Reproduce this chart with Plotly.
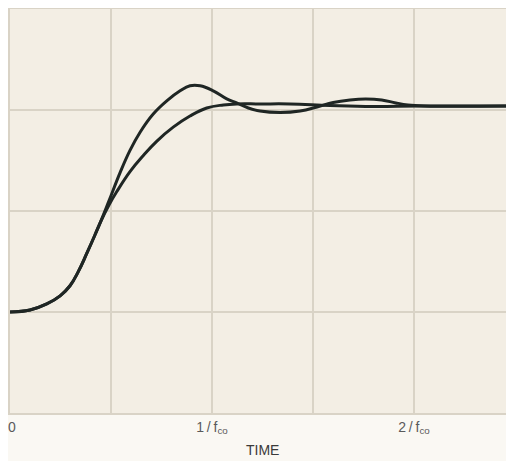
import plotly.graph_objects as go

# time in units of 1/f_co, response in grid units
t_common = [0.0, 0.099, 0.182, 0.248, 0.297, 0.338, 0.38, 0.42, 0.45]
v_common = [1.0, 1.02, 1.08, 1.16, 1.26, 1.40, 1.58, 1.76, 1.90]

t_over = [0.49, 0.545, 0.594, 0.644, 0.709, 0.776, 0.842, 0.891, 0.941,
          1.006, 1.073, 1.122, 1.18, 1.238, 1.337, 1.436, 1.52, 1.6, 1.683,
          1.76, 1.84, 1.91, 1.97, 2.05, 2.5]
v_over = [2.10, 2.38, 2.60, 2.78, 2.96, 3.09, 3.19, 3.24, 3.24,
          3.19, 3.11, 3.07, 3.02, 2.99, 2.975, 2.99, 3.03, 3.075, 3.10,
          3.11, 3.10, 3.07, 3.05, 3.04, 3.04]

t_smooth = [0.49, 0.528, 0.594, 0.66, 0.726, 0.808, 0.891, 0.974, 1.056, 1.122,
            1.238, 1.386, 1.584, 1.797, 2.03, 2.5]
v_smooth = [2.06, 2.19, 2.39, 2.55, 2.69, 2.83, 2.94, 3.02, 3.05, 3.06,
            3.06, 3.06, 3.045, 3.035, 3.04, 3.04]

x_tickvals = [0, 0.5, 1, 1.5, 2, 2.5]
x_ticktext = ["0", "", "1\u2009/\u2009f<sub>co</sub>", "",
              "2\u2009/\u2009f<sub>co</sub>", ""]
y_tickvals = [0, 1, 2, 3, 4]

line_col = "#1f2624"
grid_col = "#d9d3c6"
tick_col = "#5a5a5a"

fig = go.Figure()
fig.add_trace(go.Scatter(x=t_common + t_over, y=v_common + v_over, mode="lines",
                         line=dict(color=line_col, width=3, shape="spline", smoothing=1.2),
                         hoverinfo="skip"))
fig.add_trace(go.Scatter(x=t_common + t_smooth, y=v_common + v_smooth, mode="lines",
                         line=dict(color=line_col, width=3, shape="spline", smoothing=1.2),
                         hoverinfo="skip"))

# first tick label ("0") sits at the figure's left edge: draw it as an annotation
# anchored on its left so it is not hidden, the rest through the axis
axis_text = [""] + x_ticktext[1:]

fig.update_layout(
    width=506, height=453,
    margin=dict(l=2, r=0, t=1, b=48),
    paper_bgcolor="#faf8f3",
    plot_bgcolor="#f3eee4",
    showlegend=False,
    font=dict(family="Liberation Sans, Arial, sans-serif", color=tick_col),
    xaxis=dict(range=[0, 2.495], tickvals=x_tickvals, ticktext=axis_text,
               showgrid=True, gridcolor=grid_col, gridwidth=1.5,
               showline=True, linecolor=grid_col, linewidth=1.5, mirror=True,
               zeroline=False, ticks="", tickfont=dict(size=14, color=tick_col),
               fixedrange=True),
    yaxis=dict(range=[0, 4], tickvals=y_tickvals, showticklabels=False,
               showgrid=True, gridcolor=grid_col, gridwidth=1.5,
               showline=True, linecolor=grid_col, linewidth=1.5,
               zeroline=False, ticks="", fixedrange=True),
    annotations=[
        dict(text=x_ticktext[0], x=x_tickvals[0], y=0, xref="x", yref="paper",
             xanchor="left", yanchor="top", yshift=-4, xshift=-4, showarrow=False,
             font=dict(size=14, color=tick_col)),
        dict(text="TIME", x=0.5, y=-0.0916, xref="paper", yref="paper",
             xanchor="center", yanchor="middle", showarrow=False,
             font=dict(size=14, color="#3a3a3a")),
    ],
)

fig.write_html("out.html")
